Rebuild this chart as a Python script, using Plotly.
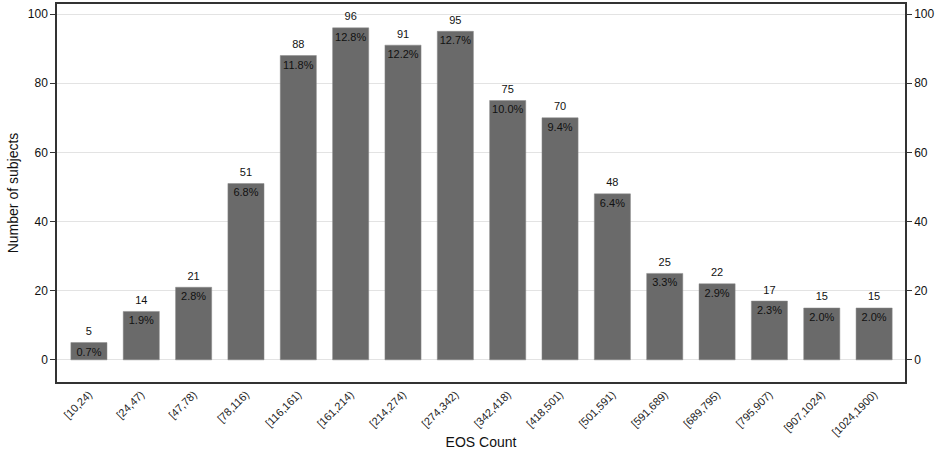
import plotly.graph_objects as go

categories = ["[10,24)", "[24,47)", "[47,78)", "[78,116)", "[116,161)", "[161,214)",
              "[214,274)", "[274,342)", "[342,418)", "[418,501)", "[501,591)", "[591,689)",
              "[689,795)", "[795,907)", "[907,1024)", "[1024,1900)"]
counts = [5, 14, 21, 51, 88, 96, 91, 95, 75, 70, 48, 25, 22, 17, 15, 15]
percents = ["0.7%", "1.9%", "2.8%", "6.8%", "11.8%", "12.8%", "12.2%", "12.7%",
            "10.0%", "9.4%", "6.4%", "3.3%", "2.9%", "2.3%", "2.0%", "2.0%"]
y_ticks = [0, 20, 40, 60, 80, 100]

FONT = "Liberation Sans, Arial, sans-serif"
idx = list(range(len(categories)))

fig = go.Figure()
fig.add_trace(go.Bar(x=idx, y=counts, width=0.69,
                     marker=dict(color="#6a6a6a", line=dict(color="#8a8a8a", width=0.5)),
                     showlegend=False, hoverinfo="skip"))
fig.add_trace(go.Scatter(x=idx, y=counts, mode="text+markers", text=[str(c) for c in counts],
                         textposition="top center", marker=dict(size=6, opacity=0),
                         textfont=dict(family=FONT, size=11, color="#111"),
                         showlegend=False, hoverinfo="skip", cliponaxis=False))
fig.add_trace(go.Scatter(x=idx, y=counts, mode="text+markers", text=percents,
                         textposition="bottom center", marker=dict(size=6, opacity=0),
                         textfont=dict(family=FONT, size=11, color="#111"),
                         showlegend=False, hoverinfo="skip", cliponaxis=False))
fig.add_trace(go.Scatter(x=idx, y=counts, yaxis="y2", mode="markers",
                         marker=dict(opacity=0), showlegend=False, hoverinfo="skip"))

yr = [-6.4, 102.9]
fig.update_layout(
    width=939, height=460,
    margin=dict(l=57, r=34, t=4, b=78, autoexpand=False),
    plot_bgcolor="white", paper_bgcolor="white",
    font=dict(family=FONT, size=12, color="#111"),
    xaxis=dict(range=[-0.61, 15.59], tickmode="array", tickvals=idx, ticktext=categories,
               tickangle=-45, tickfont=dict(size=11, color="#222"), showgrid=False, zeroline=False,
               showline=True, mirror=True, linecolor="#333", linewidth=1.5, ticks="",
               title=dict(text="EOS Count", font=dict(size=14), standoff=0)),
    yaxis=dict(range=yr, tickvals=y_ticks, showgrid=True, gridcolor="#e3e3e3", gridwidth=1,
               zeroline=False, showline=True, linecolor="#333", linewidth=1.5,
               ticks="outside", ticklen=5, tickcolor="#333", tickfont=dict(size=12),
               title=dict(text="Number of subjects", font=dict(size=14), standoff=6)),
    yaxis2=dict(range=yr, tickvals=y_ticks, overlaying="y", side="right", showgrid=False,
                zeroline=False, showline=True, linecolor="#333", linewidth=1.5,
                ticks="outside", ticklen=5, tickcolor="#333", tickfont=dict(size=12)),
)

fig.write_html("out.html", config={"displayModeBar": False},
               post_script="document.body.style.margin='0';")
